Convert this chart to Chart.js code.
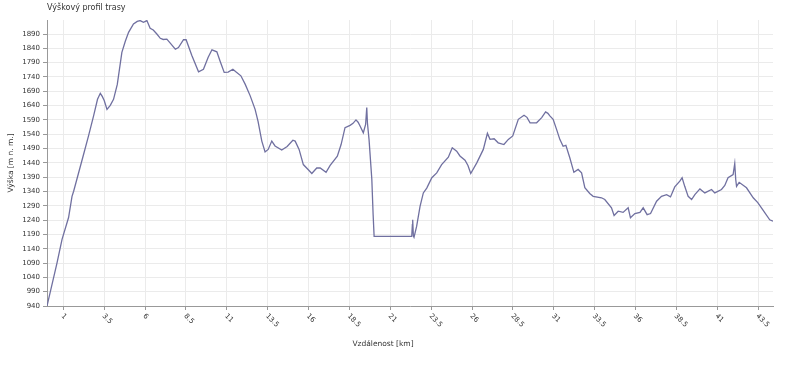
<!DOCTYPE html>
<html><head><meta charset="utf-8">
<script src="https://cdn.jsdelivr.net/npm/chart.js@4/dist/chart.umd.min.js"></script>
<style>html,body{margin:0;padding:0;background:#fff;}canvas{display:block;}</style>
</head><body>
<canvas id="c" width="800" height="367"></canvas>
<script>
const chartTitle = "Výškový profil trasy";
const xTitle = "Vzdálenost [km]";
const yTitle = "Výška [m n. m.]";
const xTickValues = [1,3.5,6,8.5,11,13.5,16,18.5,21,23.5,26,28.5,31,33.5,36,38.5,41,43.5];
const yTickValues = [940,990,1040,1090,1140,1190,1240,1290,1340,1390,1440,1490,1540,1590,1640,1690,1740,1790,1840,1890];
const distanceKm = [0,0.61,0.92,1.32,1.53,1.63,2.24,2.54,2.85,3.09,3.26,3.38,3.5,3.67,3.87,4.07,4.3,4.58,4.79,4.99,5.29,5.52,5.7,5.9,6.11,6.31,6.5,6.72,6.93,7.11,7.33,7.54,7.85,8.04,8.35,8.51,8.86,9.27,9.57,9.86,10.09,10.39,10.59,10.84,11.08,11.37,11.57,11.86,12.12,12.43,12.73,12.91,13.14,13.34,13.53,13.75,13.95,14.36,14.69,15.04,15.18,15.42,15.68,15.97,16.2,16.5,16.71,17.07,17.32,17.76,17.99,18.23,18.54,18.72,18.9,19.03,19.15,19.35,19.49,19.56,19.6,19.7,19.87,19.95,20.01,22.31,22.35,22.37,22.41,22.45,22.61,22.82,23.02,23.23,23.54,23.84,24.14,24.55,24.79,25.06,25.26,25.57,25.75,25.92,26.29,26.69,26.94,27.1,27.35,27.6,27.95,28.22,28.49,28.83,29.18,29.36,29.55,29.95,30.26,30.5,30.64,30.76,30.96,31.17,31.37,31.57,31.74,31.98,32.23,32.49,32.7,32.9,33.2,33.41,33.92,34.12,34.53,34.69,34.94,35.24,35.55,35.69,35.96,36.27,36.47,36.71,36.92,37.29,37.59,37.9,38.14,38.4,38.71,38.85,39.01,39.22,39.43,39.63,39.94,40.24,40.65,40.85,41.26,41.46,41.66,41.97,42.07,42.13,42.18,42.34,42.79,43.2,43.48,43.81,44.21,44.41];
const elevationM = [940,1090,1173,1249,1323,1341,1470,1534,1604,1662,1683,1672,1658,1627,1641,1662,1714,1826,1865,1896,1925,1934,1937,1931,1937,1910,1904,1890,1875,1871,1872,1858,1837,1843,1870,1870,1815,1758,1767,1809,1835,1828,1795,1756,1757,1767,1757,1744,1715,1674,1627,1585,1516,1478,1487,1516,1499,1485,1497,1519,1516,1487,1434,1417,1403,1422,1422,1407,1431,1463,1504,1563,1571,1578,1590,1582,1569,1545,1574,1633,1580,1521,1382,1259,1183,1183,1224,1241,1185,1180,1218,1288,1335,1352,1388,1405,1434,1460,1493,1481,1464,1449,1431,1403,1440,1487,1543,1522,1524,1510,1504,1522,1534,1592,1606,1599,1580,1580,1598,1618,1613,1604,1592,1557,1522,1498,1501,1458,1407,1417,1405,1353,1333,1323,1318,1312,1283,1256,1271,1267,1283,1248,1263,1267,1283,1259,1263,1306,1323,1329,1321,1356,1376,1388,1358,1323,1312,1329,1349,1335,1347,1335,1347,1361,1388,1399,1438,1382,1358,1372,1353,1318,1301,1274,1241,1236];

const FONT = "'DejaVu Sans', sans-serif";
const points = distanceKm.map((d,i)=>({x:d, y:elevationM[i]}));

const textPlugin = {
  id:'texts',
  afterDraw(chart){
    const ctx = chart.ctx;
    const xs = chart.scales.x;
    const area = chart.chartArea;
    ctx.save();
    ctx.fillStyle = '#333';
    ctx.font = "8px " + FONT;
    ctx.textAlign = 'left'; ctx.textBaseline = 'middle';
    ctx.fillText(chartTitle, area.left, 7.5);
    ctx.font = "7px " + FONT;
    xs.ticks.forEach(t=>{
      const px = xs.getPixelForValue(t.value);
      ctx.save();
      ctx.translate(px - 1, area.bottom + 9);
      ctx.rotate(Math.PI/4);
      ctx.textAlign='left'; ctx.textBaseline='middle';
      ctx.fillText(String(t.value), 0, 0);
      ctx.restore();
    });
    ctx.font = "7.5px " + FONT;
    ctx.textAlign='center'; ctx.textBaseline='middle';
    ctx.fillText(xTitle, 383, 344.5);
    ctx.save();
    ctx.translate(11, (area.top+area.bottom)/2);
    ctx.rotate(-Math.PI/2);
    ctx.fillText(yTitle, 0, 0);
    ctx.restore();
    ctx.restore();
  }
};

new Chart(document.getElementById('c'), {
  type:'line',
  data:{datasets:[{data:points, borderColor:'#7070a0', borderWidth:1.3, pointRadius:0, tension:0, fill:false}]},
  options:{
    responsive:false, animation:false, devicePixelRatio:1,
    layout:{padding:{top:20,right:27,bottom:0,left:0}},
    plugins:{legend:{display:false}, tooltip:{enabled:false}, title:{display:false}},
    scales:{
      x:{type:'linear', min:0, max:44.41,
        afterBuildTicks(s){ s.ticks = xTickValues.map(v=>({value:v})); },
        afterFit(s){ s.height = 61; },
        ticks:{display:false},
        grid:{color:'#ebebeb', tickColor:'#999', tickLength:4, drawTicks:true},
        border:{color:'#999', width:1}
      },
      y:{type:'linear', min:940, max:1939,
        afterBuildTicks(s){ s.ticks = yTickValues.map(v=>({value:v})); },
        afterFit(s){ s.width = 47; },
        ticks:{autoSkip:false, font:{family:FONT,size:7}, color:'#333', padding:3, callback:(v)=>String(v)},
        grid:{color:'#ebebeb', tickColor:'#999', tickLength:4},
        border:{color:'#999', width:1}
      }
    }
  },
  plugins:[textPlugin]
});
</script>
</body></html>
